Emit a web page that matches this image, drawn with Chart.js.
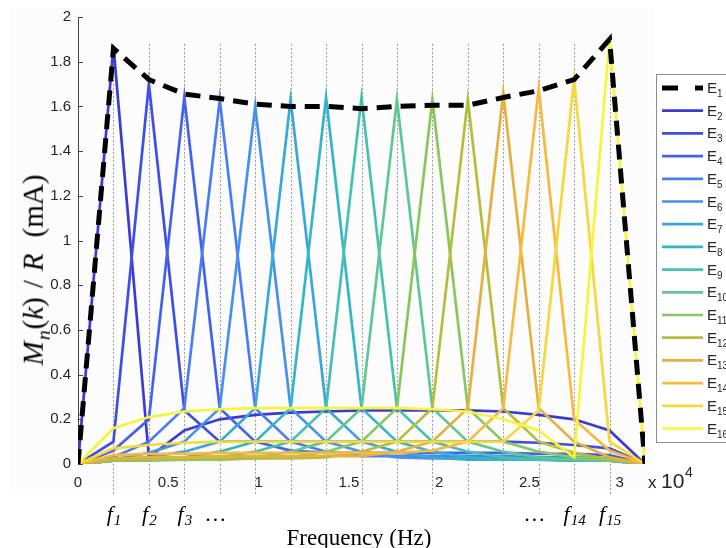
<!DOCTYPE html>
<html>
<head>
<meta charset="utf-8">
<script src="https://cdn.jsdelivr.net/npm/chart.js@4.4.1/dist/chart.umd.min.js"></script>
<style>
  body { margin: 0; background: #fff; }
  #wrap { position: relative; width: 726px; height: 548px; overflow: hidden; }
  #ylabel { position: absolute; left: 36px; top: 270px; transform: translate(-50%, -50%) rotate(-90deg); font: 29px "Liberation Serif", "DejaVu Serif", serif; white-space: nowrap; color: #000; line-height: 1; }
  #xlabel { position: absolute; left: 359px; top: 537px; transform: translate(-50%, -50%); font: 23px "Liberation Serif", "DejaVu Serif", serif; white-space: nowrap; color: #000; line-height: 1; }
  #ylabel sub { font-size: 68%; margin-left: 1px; margin-right: 1px; }
  .gap1 { margin: 0 9px; }
  .gap2 { margin-left: 16px; }
</style>
</head>
<body>
<div id="wrap">
  <canvas id="chart" width="726" height="548"></canvas>
  <div id="ylabel"><i>M</i><sub><i>n</i></sub>(<i>k</i>)<span class="gap1">/</span><i>R</i><span class="gap2">(mA)</span></div>
  <div id="xlabel">Frequency (Hz)</div>
</div>
<script>
// frequency points: 0, f1 .. f15, end
const freqs = [0, 1963, 3925, 5888, 7850, 9813, 11775, 13738, 15700, 17663, 19625, 21588, 23550, 25513, 27475, 29438, 31400];

const e1  = [0, 1.86, 1.72, 1.655, 1.635, 1.61, 1.60, 1.60, 1.59, 1.60, 1.605, 1.605, 1.64, 1.67, 1.72, 1.90, 0];
const e2  = [0, 1.87, 0.03, 0.15, 0.20, 0.22, 0.23, 0.235, 0.24, 0.24, 0.24, 0.24, 0.235, 0.22, 0.20, 0.15, 0];
const e3  = [0, 0.10, 1.70, 0.24, 0.10, 0.10, 0.10, 0.10, 0.10, 0.10, 0.10, 0.10, 0.10, 0.095, 0.085, 0.07, 0];
const e4  = [0, 0.06, 0.20, 1.64, 0.25, 0.10, 0.06, 0.05, 0.05, 0.05, 0.05, 0.05, 0.05, 0.045, 0.045, 0.04, 0];
const e5  = [0, 0.03, 0.10, 0.25, 1.63, 0.25, 0.10, 0.055, 0.035, 0.035, 0.035, 0.035, 0.035, 0.03, 0.03, 0.025, 0];
const e6  = [0, 0.02, 0.05, 0.10, 0.25, 1.60, 0.25, 0.10, 0.055, 0.03, 0.025, 0.025, 0.025, 0.02, 0.02, 0.02, 0];
const e7  = [0, 0.015, 0.03, 0.055, 0.10, 0.25, 1.63, 0.25, 0.10, 0.055, 0.03, 0.02, 0.02, 0.02, 0.015, 0.015, 0];
const e8  = [0, 0.015, 0.02, 0.03, 0.055, 0.10, 0.25, 1.64, 0.25, 0.10, 0.055, 0.03, 0.02, 0.02, 0.015, 0.015, 0];
const e9  = [0, 0.015, 0.02, 0.02, 0.03, 0.055, 0.10, 0.25, 1.64, 0.25, 0.10, 0.055, 0.03, 0.02, 0.02, 0.015, 0];
const e10 = [0, 0.015, 0.015, 0.02, 0.02, 0.03, 0.055, 0.10, 0.25, 1.63, 0.25, 0.10, 0.055, 0.03, 0.02, 0.015, 0];
const e11 = [0, 0.015, 0.02, 0.02, 0.02, 0.025, 0.03, 0.055, 0.10, 0.25, 1.63, 0.25, 0.10, 0.055, 0.03, 0.02, 0];
const e12 = [0, 0.02, 0.02, 0.025, 0.025, 0.025, 0.025, 0.03, 0.055, 0.10, 0.25, 1.63, 0.25, 0.10, 0.05, 0.02, 0];
const e13 = [0, 0.025, 0.03, 0.03, 0.035, 0.035, 0.035, 0.035, 0.035, 0.055, 0.10, 0.25, 1.66, 0.25, 0.10, 0.03, 0];
const e14 = [0, 0.04, 0.045, 0.045, 0.05, 0.05, 0.05, 0.05, 0.05, 0.05, 0.06, 0.10, 0.25, 1.68, 0.20, 0.06, 0];
const e15 = [0, 0.07, 0.085, 0.095, 0.10, 0.10, 0.10, 0.10, 0.10, 0.10, 0.10, 0.10, 0.10, 0.24, 1.72, 0.10, 0];
const e16 = [0, 0.16, 0.21, 0.235, 0.245, 0.25, 0.25, 0.25, 0.25, 0.25, 0.245, 0.235, 0.20, 0.15, 0.03, 1.90, 0];

const series = [e1, e2, e3, e4, e5, e6, e7, e8, e9, e10, e11, e12, e13, e14, e15, e16];
const seriesNames = ['E1', 'E2', 'E3', 'E4', 'E5', 'E6', 'E7', 'E8', 'E9', 'E10', 'E11', 'E12', 'E13', 'E14', 'E15', 'E16'];
const seriesColors = ['#000000', '#3b3bd4', '#3f4ee3', '#4360ef', '#4a7cf3', '#4692ea', '#3aa6dc', '#33b6c9',
    '#45c1ae', '#5fc790', '#89c65e', '#b6bd3c', '#e2b13e', '#f5ba3f', '#f5d83a', '#f7f43a'];

const xTickValues = [0, 5000, 10000, 15000, 20000, 25000, 30000];
const xTickLabels = ['0', '0.5', '1', '1.5', '2', '2.5', '3'];
const yTickValues = [0, 0.2, 0.4, 0.6, 0.8, 1, 1.2, 1.4, 1.6, 1.8, 2];
const yTickLabels = ['0', '0.2', '0.4', '0.6', '0.8', '1', '1.2', '1.4', '1.6', '1.8', '2'];

// labels under the dotted frequency lines: [index in freqs, base, subscript]
const fLabels = [[1, 'f', '1'], [2, 'f', '2'], [3, 'f', '3'], [4, '…', ''], [13, '…', ''], [14, 'f', '14'], [15, 'f', '15']];

const datasets = series.map((vals, i) => ({
    label: seriesNames[i],
    data: vals.map((v, k) => ({ x: freqs[k], y: v })),
    borderColor: seriesColors[i],
    borderWidth: i === 0 ? 5 : 2.7,
    borderDash: i === 0 ? [15, 9] : [],
    pointRadius: 0,
    tension: 0,
    order: i === 0 ? 0 : 17 - i
}));

const tickFont = { family: '"Liberation Sans", Arial, sans-serif', size: 15 };

const overlay = {
    id: 'overlay',
    beforeDraw(chart) {
        const ctx = chart.ctx;
        ctx.save();
        ctx.fillStyle = '#fcfcfc';
        ctx.fillRect(10, 8, 645, 482);
        ctx.restore();
    },
    beforeDatasetsDraw(chart) {
        const ctx = chart.ctx, xs = chart.scales.x, ys = chart.scales.y;
        const top = ys.getPixelForValue(1.88), bottom = chart.chartArea.bottom + 31;
        ctx.save();
        ctx.strokeStyle = '#9a9a9a';
        ctx.lineWidth = 1;
        ctx.setLineDash([2, 2]);
        for (let k = 1; k < freqs.length - 1; k++) {
            const px = Math.round(xs.getPixelForValue(freqs[k])) + 0.5;
            ctx.beginPath(); ctx.moveTo(px, top); ctx.lineTo(px, bottom); ctx.stroke();
        }
        ctx.restore();
    },
    afterDraw(chart) {
        const ctx = chart.ctx, xs = chart.scales.x, ys = chart.scales.y, area = chart.chartArea;
        ctx.save();
        // small inward y ticks
        ctx.strokeStyle = '#444';
        ctx.lineWidth = 1;
        yTickValues.forEach(v => {
            const py = Math.round(ys.getPixelForValue(v)) + 0.5;
            ctx.beginPath(); ctx.moveTo(area.left, py); ctx.lineTo(area.left + 5, py); ctx.stroke();
        });
        // f labels
        ctx.fillStyle = '#000';
        ctx.textBaseline = 'alphabetic';
        fLabels.forEach(([k, base, sub]) => {
            const px = xs.getPixelForValue(freqs[k]);
            ctx.font = 'italic 22px "Liberation Serif", "DejaVu Serif", serif';
            const bw = ctx.measureText(base).width;
            ctx.font = 'italic 15px "Liberation Serif", "DejaVu Serif", serif';
            const sw = sub ? ctx.measureText(sub).width : 0;
            let x0 = px - (bw + sw) / 2;
            if (!sub) x0 -= 4;
            ctx.font = 'italic 22px "Liberation Serif", "DejaVu Serif", serif';
            ctx.textAlign = 'left';
            ctx.fillText(base, x0, 521);
            if (sub) {
                ctx.font = 'italic 15px "Liberation Serif", "DejaVu Serif", serif';
                ctx.fillText(sub, x0 + bw + 1, 525);
            }
        });
        // x 10^4 exponent
        ctx.fillStyle = '#262626';
        ctx.font = '17px "Liberation Sans", Arial, sans-serif';
        ctx.fillText('x', area.right + 3, 488);
        ctx.font = '21px "Liberation Sans", Arial, sans-serif';
        ctx.fillText('10', area.right + 16, 488);
        ctx.font = '14px "Liberation Sans", Arial, sans-serif';
        ctx.fillText('4', area.right + 40, 477);
        // legend
        const lx = 656.5, ly = 74.5, rowH = 22.7;
        ctx.fillStyle = '#fff';
        ctx.fillRect(lx, ly, 80, 368);
        ctx.strokeStyle = '#8c8c8c';
        ctx.lineWidth = 1;
        ctx.strokeRect(lx, ly, 80, 368);
        chart.data.datasets.forEach((ds, i) => {
            const y = 88 + i * rowH;
            ctx.strokeStyle = ds.borderColor;
            ctx.lineWidth = i === 0 ? 5 : 2.7;
            ctx.setLineDash(i === 0 ? [16, 17] : []);
            ctx.beginPath(); ctx.moveTo(662, y); ctx.lineTo(703, y); ctx.stroke();
            ctx.setLineDash([]);
            ctx.fillStyle = '#262626';
            ctx.font = '15px "Liberation Sans", Arial, sans-serif';
            ctx.fillText('E', 707, y + 5);
            ctx.font = '10px "Liberation Sans", Arial, sans-serif';
            ctx.fillText(ds.label.slice(1), 717, y + 9);
        });
        ctx.restore();
    }
};

new Chart(document.getElementById('chart'), {
    type: 'line',
    data: { datasets },
    options: {
        responsive: false,
        animation: false,
        layout: { padding: { top: 17, right: 81, left: 0, bottom: 0 } },
        plugins: { legend: { display: false }, tooltip: { enabled: false } },
        scales: {
            x: {
                type: 'linear', min: 0, max: 31400,
                afterFit: s => { s.height = 84; },
                afterBuildTicks: s => { s.ticks = xTickValues.map(v => ({ value: v })); },
                grid: { display: false, drawTicks: false },
                border: { display: false },
                ticks: { padding: 10, color: '#262626', font: tickFont, callback: (v, i) => xTickLabels[i] }
            },
            y: {
                min: 0, max: 2,
                afterFit: s => { s.width = 78; },
                afterBuildTicks: s => { s.ticks = yTickValues.map(v => ({ value: v })); },
                grid: { drawOnChartArea: false, drawTicks: false },
                border: { display: true, color: '#444', width: 1 },
                ticks: { padding: 7, color: '#262626', font: tickFont, callback: (v, i) => yTickLabels[i] }
            }
        }
    },
    plugins: [overlay]
});
</script>
</body>
</html>
